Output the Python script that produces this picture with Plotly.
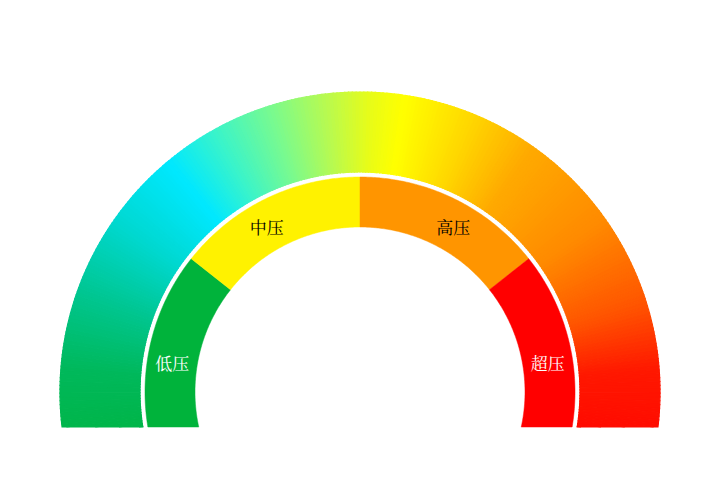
import math
import plotly.graph_objects as go

# ---------------- data ----------------
categories = ['低压', '中压', '高压', '超压']
# pressure scale 0..100 mapped onto the arc (upper boundary of each band)
band_upper = [26.5, 50, 73.5, 100]
band_colors = ['#00B33B', '#FFF200', '#FF9500', '#FF0000']
label_colors = ['#ffffff', '#000000', '#000000', '#ffffff']
# gradient stops along the outer ring (scale value, colour)
grad_stops = [
    (0, '#00b33b'), (11, '#00b85a'), (18, '#00c690'), (25, '#00d8d0'),
    (32, '#00e8ff'), (37, '#3cf4c8'), (42, '#78fa90'), (47, '#b8fa50'),
    (51, '#e8fc18'), (54, '#ffff00'), (60, '#ffd800'), (66, '#ffaa00'),
    (75, '#ff8a00'), (83, '#ff5500'), (89, '#ff1800'), (100, '#ff0000'),
]

# ---------------- geometry / layout constants ----------------
A_START, A_END = 200.0, -20.0        # arc angles for scale 0 and 100
R_OUT_O, R_OUT_I = 300, 220          # outer gradient ring
R_IN_O, R_IN_I = 215, 165            # inner band ring
Y_CLIP = -35                         # flat bottom edge
LABEL_ANGLES = [171.2, 119.4, 60.6, 8.8]
LABEL_R = 190
LABEL_DY = -3


def ang(v):
    return A_START + (A_END - A_START) * v / 100.0


def clip(pts, yc):
    out = []
    n = len(pts)
    for i in range(n):
        p, q = pts[i], pts[(i + 1) % n]
        pin, qin = p[1] >= yc, q[1] >= yc
        if pin:
            out.append(p)
        if pin != qin:
            t = (yc - p[1]) / (q[1] - p[1])
            out.append((p[0] + t * (q[0] - p[0]), yc))
    return out


def sector(a0, a1, r_o, r_i, n=None):
    if n is None:
        n = max(2, int(abs(a1 - a0) * 2))
    pts = []
    for k in range(n + 1):
        a = math.radians(a0 + (a1 - a0) * k / n)
        pts.append((r_o * math.cos(a), r_o * math.sin(a)))
    for k in range(n + 1):
        a = math.radians(a1 + (a0 - a1) * k / n)
        pts.append((r_i * math.cos(a), r_i * math.sin(a)))
    return clip(pts, Y_CLIP)


def path(pts):
    return 'M ' + ' L '.join(f'{x:.2f},{y:.2f}' for x, y in pts) + ' Z'


def hex2rgb(h):
    h = h.lstrip('#')
    return tuple(int(h[i:i + 2], 16) for i in (0, 2, 4))


def colour_at(v):
    for (v0, c0), (v1, c1) in zip(grad_stops[:-1], grad_stops[1:]):
        if v0 <= v <= v1:
            t = (v - v0) / (v1 - v0) if v1 > v0 else 0
            a, b = hex2rgb(c0), hex2rgb(c1)
            return 'rgb(%d,%d,%d)' % tuple(round(a[i] + (b[i] - a[i]) * t) for i in range(3))
    return grad_stops[-1][1]


shapes = []
steps = 300
for k in range(steps):
    v0 = 100 * k / steps
    v1 = 100 * (k + 1) / steps
    pts = sector(ang(v0), ang(v1), R_OUT_O, R_OUT_I, n=2)
    if len(pts) < 3:
        continue
    c = colour_at((v0 + v1) / 2)
    shapes.append(dict(type='path', path=path(pts), fillcolor=c,
                       line=dict(color=c, width=1.2), layer='below'))

lower = 0
for cat, up, col in zip(categories, band_upper, band_colors):
    pts = sector(ang(lower), ang(up), R_IN_O, R_IN_I)
    shapes.append(dict(type='path', path=path(pts), fillcolor=col,
                       line=dict(color=col, width=0.5), layer='below'))
    lower = up

lx = [LABEL_R * math.cos(math.radians(a)) for a in LABEL_ANGLES]
ly = [LABEL_R * math.sin(math.radians(a)) + LABEL_DY for a in LABEL_ANGLES]

fig = go.Figure()
fig.add_trace(go.Scatter(
    x=lx, y=ly, mode='text', text=categories,
    textfont=dict(family='Noto Serif CJK SC, Noto Sans CJK SC', size=17, color=label_colors),
    hoverinfo='skip', showlegend=False))

fig.update_layout(
    width=720, height=500,
    margin=dict(l=0, r=0, t=0, b=0),
    paper_bgcolor='white', plot_bgcolor='white',
    shapes=shapes,
    xaxis=dict(range=[-360, 360], visible=False, fixedrange=True),
    yaxis=dict(range=[-108, 392], visible=False, fixedrange=True),
    showlegend=False,
)
fig.write_html('out.html')
